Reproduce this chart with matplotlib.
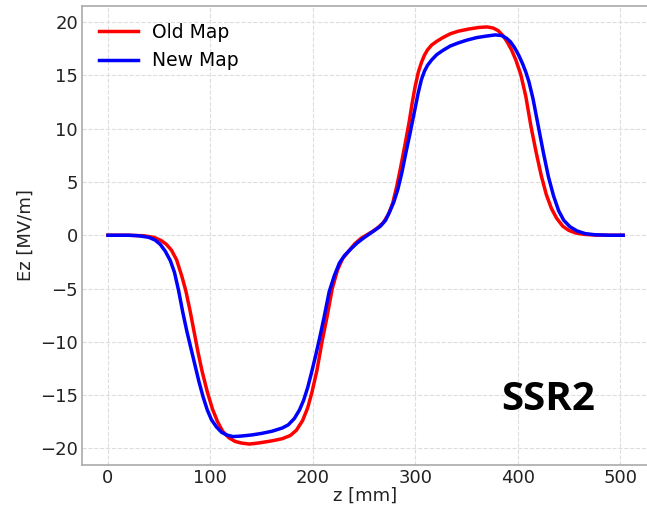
import matplotlib.pyplot as plt

# data
z_old = [0, 20, 35, 45, 52, 57, 62, 67, 72, 76, 80, 84, 88, 92, 97, 102, 107,
         112, 118, 124, 130, 138, 147, 160, 170, 178, 184, 190, 195, 199, 204,
         209, 214, 219, 224, 229, 235, 241, 247, 253, 259, 264, 269, 274, 278,
         282, 286, 290, 294, 297, 300, 303, 306, 309, 312, 316, 321, 327, 334,
         342, 352, 362, 370, 376, 381, 386, 390, 394, 398, 403, 408, 413, 418,
         423, 428, 433, 438, 444, 450, 457, 465, 475, 490, 503]
ez_old = [0, 0, -0.05, -0.2, -0.5, -0.85, -1.4, -2.3, -3.8, -5.2, -7.0, -9.0,
          -11.0, -12.8, -14.7, -16.3, -17.5, -18.4, -19.0, -19.35, -19.5,
          -19.6, -19.5, -19.3, -19.1, -18.8, -18.3, -17.4, -16.2, -14.8, -12.7,
          -10.0, -7.6, -5.0, -3.3, -2.2, -1.5, -0.8, -0.3, 0.05, 0.4, 0.75,
          1.2, 2.0, 3.0, 4.6, 6.5, 8.5, 10.6, 12.4, 14.0, 15.3, 16.2, 16.9,
          17.4, 17.85, 18.2, 18.55, 18.9, 19.15, 19.35, 19.5, 19.55, 19.45,
          19.2, 18.7, 18.1, 17.4, 16.5, 15.1, 13.0, 10.2, 7.8, 5.6, 3.8, 2.5,
          1.6, 0.85, 0.45, 0.2, 0.08, 0.02, 0, 0]

z_new = [0, 20, 30, 40, 46, 51, 56, 61, 65, 69, 73, 77, 81, 85, 89, 93, 97,
         101, 106, 111, 116, 122, 130, 140, 150, 160, 170, 176, 182, 187, 191,
         195, 199, 203, 207, 211, 216, 221, 226, 231, 237, 243, 249, 255, 261,
         266, 271, 275, 279, 283, 287, 291, 295, 299, 303, 306, 309, 312, 316,
         321, 327, 334, 342, 350, 360, 370, 378, 384, 389, 393, 397, 401, 405,
         408, 411, 415, 420, 425, 430, 435, 440, 445, 451, 458, 466, 476, 490,
         503]
ez_new = [0, 0, -0.05, -0.2, -0.45, -0.85, -1.5, -2.4, -3.5, -5.2, -7.2, -9.0,
          -10.6, -12.2, -13.8, -15.2, -16.4, -17.3, -18.0, -18.5, -18.75,
          -18.9, -18.85, -18.75, -18.6, -18.4, -18.1, -17.8, -17.2, -16.4,
          -15.5, -14.3, -12.8, -11.2, -9.5, -7.7, -5.3, -3.8, -2.6, -1.9,
          -1.3, -0.75, -0.3, 0.1, 0.5, 0.85, 1.4, 2.2, 3.1, 4.3, 5.9, 7.8,
          9.6, 11.5, 13.4, 14.6, 15.4, 15.95, 16.45, 16.95, 17.35, 17.75,
          18.05, 18.3, 18.55, 18.7, 18.8, 18.75, 18.5, 18.15, 17.6, 16.9,
          16.05, 15.3, 14.4, 12.8, 10.3, 7.8, 5.5, 3.7, 2.3, 1.4, 0.8, 0.4,
          0.15, 0.04, 0, 0]

xticks = [0, 100, 200, 300, 400, 500]
yticks = [-20, -15, -10, -5, 0, 5, 10, 15, 20]

fig = plt.figure(figsize=(6.47, 5.07), dpi=100)
# right edge of the axes runs off the canvas, as in the reference
ax = fig.add_axes([0.127, 0.083, 0.876, 0.905])

ax.plot(z_old, ez_old, color='red', lw=2.5, label='Old Map')
ax.plot(z_new, ez_new, color='blue', lw=2.5, label='New Map')

ax.set_xticks(xticks)
ax.set_yticks(yticks)
ax.grid(True, color='#dddddd', linestyle='--', linewidth=0.8)
for side in ['left', 'bottom', 'top']:
    ax.spines[side].set_color('#aaaaaa')
    ax.spines[side].set_linewidth(1.2)
ax.spines['right'].set_visible(False)
ax.tick_params(labelsize=13, labelcolor='#222222', length=0, pad=3)

ax.set_xlabel('z [mm]', fontsize=13, color='#222222', labelpad=0)
ax.set_ylabel('Ez [MV/m]', fontsize=13, color='#222222', labelpad=4)

ax.legend(loc='upper left', frameon=False, fontsize=13.5,
          handlelength=2.1, handletextpad=0.75)

ax.text(430, -15.4, 'SSR2', fontsize=29, fontweight='bold',
        family='Open Sans', ha='center', va='center')

plt.savefig('out.png', dpi=100)
